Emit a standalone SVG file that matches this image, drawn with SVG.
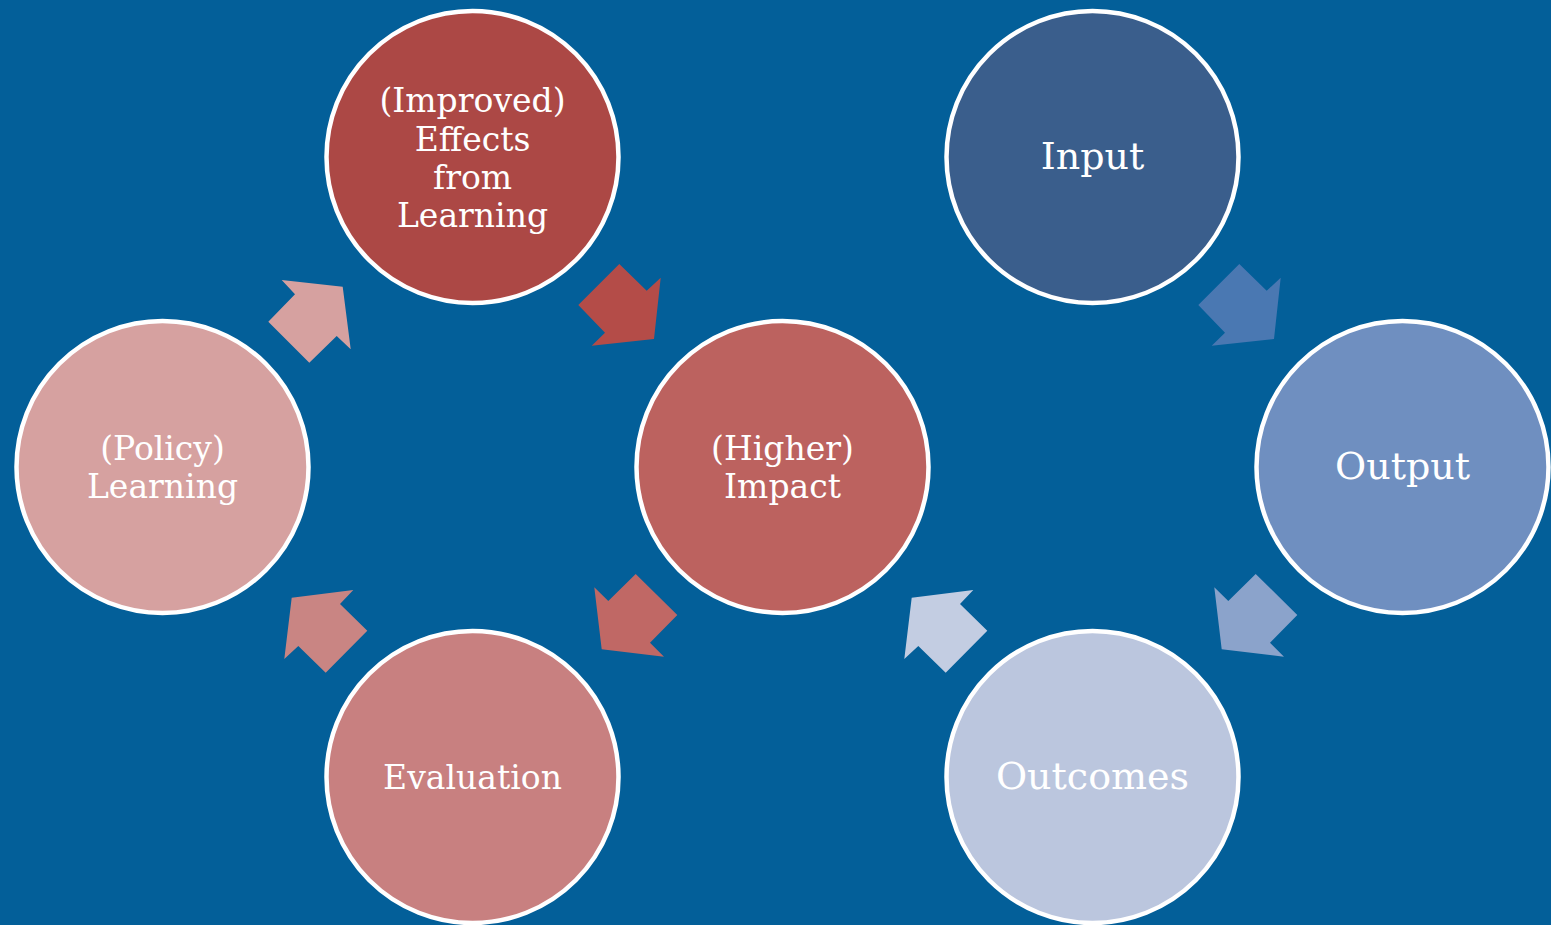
<svg xmlns="http://www.w3.org/2000/svg" width="1551" height="925" viewBox="0 0 1551 925">
<style>
.c{stroke:#ffffff;stroke-width:4.5}
.t{font-family:"DejaVu Serif","Liberation Serif",serif;fill:#ffffff;text-anchor:middle}
.s{font-size:33px}
.b{font-size:38px}
</style>
<rect width="1551" height="925" fill="#035F99"/>
<g id="connectors">
<polygon fill="#D6A1A0" points="281.7,280 342.7,286.7 350.7,349.3 336.7,336 309.3,362.7 268.3,321.7 295,294.3"/>
<polygon fill="#B44C48" points="619.3,264 646.7,290.7 660.7,277.7 654,339 591.7,345.7 605,332.7 578.3,305"/>
<polygon fill="#C06865" points="635.7,574 677.3,615 650,642.7 664,656.7 601.7,649.3 594.3,587.3 608.3,601"/>
<polygon fill="#C98583" points="291.7,597.7 353.3,590 340,604 367.3,630.7 325.7,672.7 298.3,646 284.3,659"/>
<polygon fill="#C3CDE2" points="911.7,597.7 973.3,590 960,604 987.3,630.7 945.7,672.7 918.3,646 904.3,659"/>
<polygon fill="#4A78B2" points="1239.3,264 1266.7,290.7 1280.7,277.7 1274,339 1211.7,345.7 1225,332.7 1198.3,305"/>
<polygon fill="#8BA3CB" points="1255.7,574 1297.3,615 1270,642.7 1284,656.7 1221.7,649.3 1214.3,587.3 1228.3,601"/>
</g>
<g id="improved">
<circle class="c" cx="472.5" cy="157" r="146" fill="#AC4845"/>
<text class="t s"><tspan x="472.5" y="112">(Improved)</tspan><tspan x="472.5" y="150.5">Effects</tspan><tspan x="472.5" y="188.5">from</tspan><tspan x="472.5" y="226.5">Learning</tspan></text>
</g>
<g id="higher">
<circle class="c" cx="782.5" cy="467" r="146" fill="#BC625F"/>
<text class="t s"><tspan x="782.5" y="460">(Higher)</tspan><tspan x="782.5" y="498">Impact</tspan></text>
</g>
<g id="evaluation">
<circle class="c" cx="472.5" cy="777" r="146" fill="#C88080"/>
<text class="t s" x="472.5" y="789">Evaluation</text>
</g>
<g id="policy">
<circle class="c" cx="162.5" cy="467" r="146" fill="#D6A1A0"/>
<text class="t s"><tspan x="162.5" y="460">(Policy)</tspan><tspan x="162.5" y="498">Learning</tspan></text>
</g>
<g id="input">
<circle class="c" cx="1092.5" cy="157" r="146" fill="#3A5E8C"/>
<text class="t b" x="1092.5" y="169">Input</text>
</g>
<g id="output">
<circle class="c" cx="1402.5" cy="467" r="146" fill="#6F8FC0"/>
<text class="t b" x="1402.5" y="479">Output</text>
</g>
<g id="outcomes">
<circle class="c" cx="1092.5" cy="777" r="146" fill="#BBC6DE"/>
<text class="t b" x="1092.5" y="789">Outcomes</text>
</g>
</svg>
